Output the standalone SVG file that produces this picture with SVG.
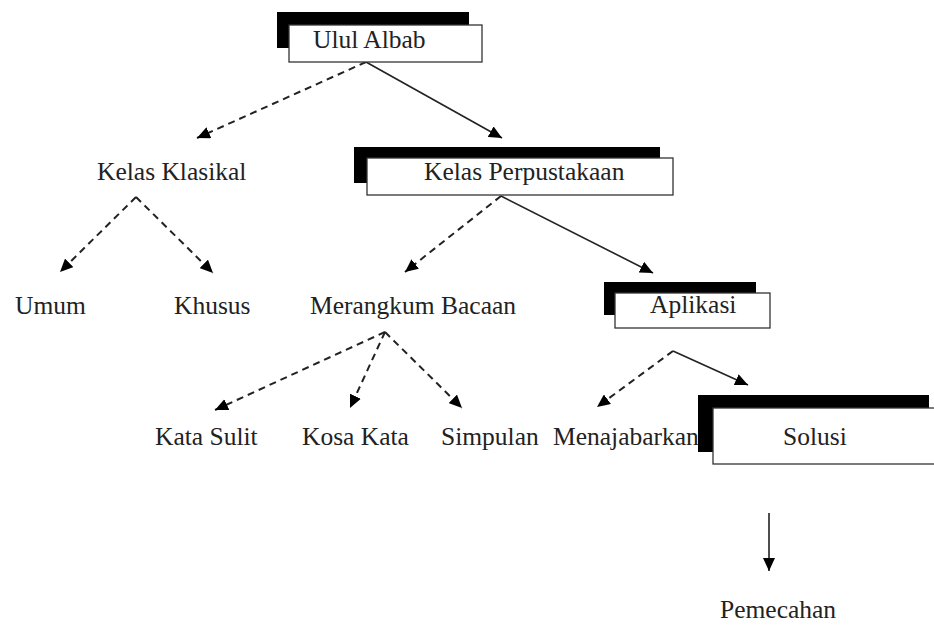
<svg xmlns="http://www.w3.org/2000/svg" width="934" height="626" viewBox="0 0 934 626">
<style>
text{font-family:"Liberation Serif","Times New Roman",serif;font-size:25.5px;fill:#222}
.sh{fill:#000}
.bx{fill:#fff;stroke:#333;stroke-width:1.3}
.c{fill:none;stroke:#222;stroke-width:1.6}
.d{stroke-dasharray:7 5;stroke-width:2}
</style>
<defs>
<marker id="ah" markerUnits="userSpaceOnUse" markerWidth="14" markerHeight="12" refX="13" refY="6" orient="auto" viewBox="0 0 14 12">
<path d="M0,0 L13,6 L0,12 z" fill="#000"/>
</marker>
</defs>
<rect width="934" height="626" fill="#fff"/>
<g id="connectors">
<line class="c d" x1="366" y1="62" x2="197" y2="138" marker-end="url(#ah)"/>
<line class="c" x1="366" y1="62" x2="502" y2="138" marker-end="url(#ah)"/>
<line class="c d" x1="136" y1="197" x2="60" y2="272" marker-end="url(#ah)"/>
<line class="c d" x1="136" y1="197" x2="213" y2="273" marker-end="url(#ah)"/>
<line class="c d" x1="501" y1="196" x2="405" y2="272" marker-end="url(#ah)"/>
<line class="c" x1="501" y1="196" x2="653" y2="273" marker-end="url(#ah)"/>
<line class="c d" x1="385" y1="332" x2="215" y2="410" marker-end="url(#ah)"/>
<line class="c d" x1="385" y1="332" x2="350" y2="408" marker-end="url(#ah)"/>
<line class="c d" x1="385" y1="332" x2="462" y2="408" marker-end="url(#ah)"/>
<line class="c d" x1="673" y1="351" x2="597" y2="407" marker-end="url(#ah)"/>
<line class="c" x1="673" y1="351" x2="748" y2="385" marker-end="url(#ah)"/>
<line class="c" x1="769" y1="513" x2="769" y2="571" marker-end="url(#ah)"/>
</g>
<g id="ulul-albab">
<rect class="sh" x="277" y="12" width="192" height="36"/>
<rect class="bx" x="289" y="25" width="193" height="37"/>
<text x="313" y="48">Ulul Albab</text>
</g>
<g id="kelas-klasikal"><text x="97" y="180">Kelas Klasikal</text></g>
<g id="kelas-perpustakaan">
<rect class="sh" x="354" y="147" width="306" height="36"/>
<rect class="bx" x="367" y="158" width="306" height="37"/>
<text x="424" y="180">Kelas Perpustakaan</text>
</g>
<g id="umum"><text x="15" y="314">Umum</text></g>
<g id="khusus"><text x="174" y="314">Khusus</text></g>
<g id="merangkum-bacaan"><text x="310" y="314">Merangkum Bacaan</text></g>
<g id="aplikasi">
<rect class="sh" x="604" y="282" width="152" height="33"/>
<rect class="bx" x="615" y="293" width="155" height="35"/>
<text x="650" y="313">Aplikasi</text>
</g>
<g id="kata-sulit"><text x="155" y="445">Kata Sulit</text></g>
<g id="kosa-kata"><text x="302" y="445">Kosa Kata</text></g>
<g id="simpulan"><text x="441" y="445">Simpulan</text></g>
<g id="menajabarkan"><text x="553" y="445">Menajabarkan</text></g>
<g id="solusi">
<rect class="sh" x="698" y="395" width="231" height="57"/>
<rect class="bx" x="713" y="408" width="222" height="56"/>
<text x="783" y="445">Solusi</text>
</g>
<g id="pemecahan"><text x="720" y="618">Pemecahan</text></g>
</svg>
